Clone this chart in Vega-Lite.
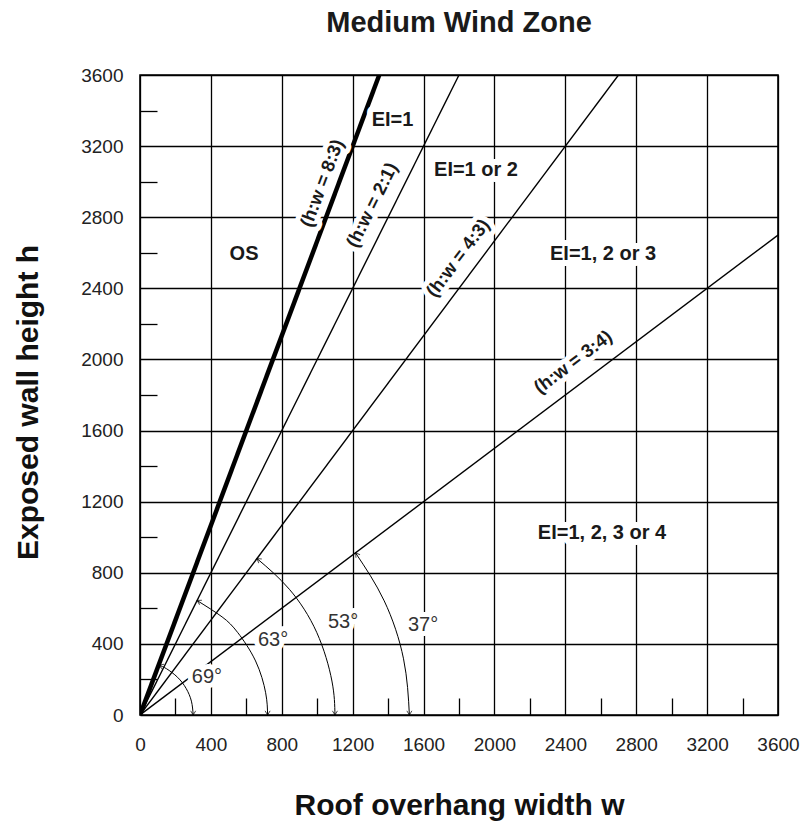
{
  "$schema": "https://vega.github.io/schema/vega-lite/v6.json",
  "width": 638,
  "height": 640,
  "autosize": {"type": "none"},
  "padding": {"left": 140, "top": 75, "right": 25, "bottom": 115},
  "background": "white",
  "title": {"text": "Medium Wind Zone", "fontSize": 29, "font": "Liberation Sans", "fontWeight": "bold", "color": "#1a1a1a", "anchor": "middle", "offset": 28},
  "config": {
    "view": {"stroke": "black", "strokeWidth": 1.6},
    "font": "Liberation Sans",
    "text": {"font": "Liberation Sans"}
  },
  "datasets": {
    "rays": [
      {"ratio": "8:3", "w": 0, "h": 0}, {"ratio": "8:3", "w": 1350, "h": 3600},
      {"ratio": "2:1", "w": 0, "h": 0}, {"ratio": "2:1", "w": 1800, "h": 3600},
      {"ratio": "4:3", "w": 0, "h": 0}, {"ratio": "4:3", "w": 2700, "h": 3600},
      {"ratio": "3:4", "w": 0, "h": 0}, {"ratio": "3:4", "w": 3600, "h": 2700}
    ],
    "arcs": [
      {"arc": "69", "i": 0, "w": 108, "h": 280}, {"arc": "69", "i": 1, "w": 150, "h": 260}, {"arc": "69", "i": 2, "w": 212, "h": 212},
      {"arc": "69", "i": 3, "w": 260, "h": 150}, {"arc": "69", "i": 4, "w": 290, "h": 78}, {"arc": "69", "i": 5, "w": 300, "h": 0},
      {"arc": "63", "i": 0, "w": 322, "h": 644}, {"arc": "63", "i": 1, "w": 463, "h": 552}, {"arc": "63", "i": 2, "w": 552, "h": 463},
      {"arc": "63", "i": 3, "w": 652, "h": 304}, {"arc": "63", "i": 4, "w": 709, "h": 125}, {"arc": "63", "i": 5, "w": 720, "h": 0},
      {"arc": "53", "i": 0, "w": 660, "h": 880}, {"arc": "53", "i": 1, "w": 843, "h": 707}, {"arc": "53", "i": 2, "w": 997, "h": 465},
      {"arc": "53", "i": 3, "w": 1083, "h": 191}, {"arc": "53", "i": 4, "w": 1100, "h": 0},
      {"arc": "37", "i": 0, "w": 1216, "h": 912}, {"arc": "37", "i": 1, "w": 1378, "h": 642}, {"arc": "37", "i": 2, "w": 1487, "h": 316},
      {"arc": "37", "i": 3, "w": 1520, "h": 0}
    ],
    "arrows": [
      {"end": "top", "deg": 69.4, "w": 108, "h": 280}, {"end": "bottom", "deg": 69.4, "w": 300, "h": 0},
      {"end": "top", "deg": 63.4, "w": 322, "h": 644}, {"end": "bottom", "deg": 63.4, "w": 720, "h": 0},
      {"end": "top", "deg": 53.1, "w": 660, "h": 880}, {"end": "bottom", "deg": 53.1, "w": 1100, "h": 0},
      {"end": "top", "deg": 36.9, "w": 1216, "h": 912}, {"end": "bottom", "deg": 36.9, "w": 1520, "h": 0}
    ],
    "labels": [
      {"kind": "zone", "text": "EI=1", "w": 1425, "h": 3347, "deg": 0},
      {"kind": "zone", "text": "EI=1 or 2", "w": 1896, "h": 3066, "deg": 0},
      {"kind": "zone", "text": "OS", "w": 587, "h": 2593, "deg": 0},
      {"kind": "zone", "text": "EI=1, 2 or 3", "w": 2613, "h": 2593, "deg": 0},
      {"kind": "zone", "text": "EI=1, 2, 3 or 4", "w": 2607, "h": 1024, "deg": 0},
      {"kind": "ratio", "text": "(h:w = 8:3)", "w": 1027, "h": 2992, "deg": 69.4},
      {"kind": "ratio", "text": "(h:w = 2:1)", "w": 1309, "h": 2869, "deg": 63.4},
      {"kind": "ratio", "text": "(h:w = 4:3)", "w": 1794, "h": 2571, "deg": 53.1},
      {"kind": "ratio", "text": "(h:w = 3:4)", "w": 2443, "h": 1986, "deg": 36.9},
      {"kind": "angle", "text": "69°", "w": 378, "h": 214, "deg": 0},
      {"kind": "angle", "text": "63°", "w": 751, "h": 422, "deg": 0},
      {"kind": "angle", "text": "53°", "w": 1146, "h": 523, "deg": 0},
      {"kind": "angle", "text": "37°", "w": 1597, "h": 506, "deg": 0}
    ]
  },
  "layer": [
    {
      "data": {"name": "rays"},
      "mark": {"type": "line", "color": "black", "strokeCap": "butt", "clip": true},
      "encoding": {
        "x": {
          "field": "w", "type": "quantitative",
          "scale": {"domain": [0, 3600], "nice": false},
          "axis": {
            "orient": "bottom", "values": [0, 400, 800, 1200, 1600, 2000, 2400, 2800, 3200, 3600], "format": "d",
            "grid": true, "gridColor": "black", "gridWidth": 1.3, "gridOpacity": 1,
            "domain": false, "ticks": false, "tickSize": 0, "labelPadding": 20,
            "labelFontSize": 19, "labelColor": "#222", "labelFont": "Liberation Sans", "labelFlush": false,
            "title": "Roof overhang width w", "titleFontSize": 30, "titleFontWeight": "bold", "titleColor": "#111",
            "titleFont": "Liberation Sans", "titleX": 319, "titleY": 90, "titleBaseline": "middle", "titleAnchor": "middle"
          }
        },
        "y": {
          "field": "h", "type": "quantitative",
          "scale": {"domain": [0, 3600], "nice": false},
          "axis": {
            "orient": "left", "values": [0, 400, 800, 1200, 1600, 2000, 2400, 2800, 3200, 3600], "format": "d",
            "grid": true, "gridColor": "black", "gridWidth": 1.3, "gridOpacity": 1,
            "domain": false, "ticks": false, "tickSize": 0, "labelPadding": 17,
            "labelFontSize": 19, "labelColor": "#222", "labelFont": "Liberation Sans", "labelFlush": false,
            "title": "Exposed wall height h", "titleFontSize": 30, "titleFontWeight": "bold", "titleColor": "#111",
            "titleFont": "Liberation Sans", "titleX": -112, "titleY": 327, "titleAngle": 270, "titleBaseline": "middle", "titleAlign": "center"
          }
        },
        "detail": {"field": "ratio"},
        "strokeWidth": {"condition": {"test": "datum.ratio === '8:3'", "value": 4.5}, "value": 1.4}
      }
    },
    {
      "data": {"name": "arcs"},
      "mark": {"type": "line", "color": "black", "strokeWidth": 1, "interpolate": "natural"},
      "encoding": {
        "x": {"field": "w", "type": "quantitative", "axis": {
          "orient": "bottom", "values": [200, 600, 1000, 1400, 1800, 2200, 2600, 3000, 3400],
          "labels": false, "grid": false, "domain": false, "ticks": true, "tickSize": -17, "tickColor": "black", "tickWidth": 1.3, "title": null}},
        "y": {"field": "h", "type": "quantitative", "axis": {
          "orient": "left", "values": [200, 600, 1000, 1400, 1800, 2200, 2600, 3000, 3400],
          "labels": false, "grid": false, "domain": false, "ticks": true, "tickSize": -17, "tickColor": "black", "tickWidth": 1.3, "title": null}},
        "detail": {"field": "arc"},
        "order": {"field": "i"}
      }
    },
    {
      "data": {"name": "arrows"},
      "transform": [{"filter": "datum.end === 'top'"}],
      "mark": {"type": "point", "shape": "M-0.6,-1L0,0L0.6,-1", "filled": false, "stroke": "black", "strokeWidth": 1, "size": 70},
      "encoding": {
        "x": {"field": "w", "type": "quantitative", "axis": null},
        "y": {"field": "h", "type": "quantitative", "axis": null},
        "angle": {"field": "deg", "type": "quantitative", "scale": {"domain": [0, 180], "range": [180, 0]}}
      }
    },
    {
      "data": {"name": "arrows"},
      "transform": [{"filter": "datum.end === 'bottom'"}],
      "mark": {"type": "point", "shape": "M-0.6,-1L0,0L0.6,-1", "filled": false, "stroke": "black", "strokeWidth": 1, "size": 70, "angle": 0},
      "encoding": {
        "x": {"field": "w", "type": "quantitative", "axis": null},
        "y": {"field": "h", "type": "quantitative", "axis": null}
      }
    },
    {
      "layer": [
        {
          "data": {"name": "labels"},
          "transform": [{"filter": "datum.kind === 'zone'"}],
          "mark": {"type": "text", "fontWeight": "bold", "fontSize": 20, "stroke": "white", "strokeWidth": 12, "strokeJoin": "round", "fill": "white", "align": "center", "baseline": "middle"},
          "encoding": {
            "x": {"field": "w", "type": "quantitative", "axis": null},
            "y": {"field": "h", "type": "quantitative", "axis": null},
            "text": {"field": "text"}
          }
        },
        {
          "data": {"name": "labels"},
          "transform": [{"filter": "datum.kind === 'ratio'"}],
          "mark": {"type": "text", "fontWeight": "bold", "fontSize": 18.5, "stroke": "white", "strokeWidth": 10, "strokeJoin": "round", "fill": "white", "align": "center", "baseline": "middle"},
          "encoding": {
            "x": {"field": "w", "type": "quantitative", "axis": null},
            "y": {"field": "h", "type": "quantitative", "axis": null},
            "text": {"field": "text"},
            "angle": {"field": "deg", "type": "quantitative", "scale": {"domain": [0, 90], "range": [360, 270]}}
          }
        },
        {
          "data": {"name": "labels"},
          "transform": [{"filter": "datum.kind === 'angle'"}],
          "mark": {"type": "text", "fontSize": 20, "stroke": "white", "strokeWidth": 10, "strokeJoin": "round", "fill": "white", "align": "center", "baseline": "middle"},
          "encoding": {
            "x": {"field": "w", "type": "quantitative", "axis": null},
            "y": {"field": "h", "type": "quantitative", "axis": null},
            "text": {"field": "text"}
          }
        },
        {
          "data": {"name": "labels"},
          "transform": [{"filter": "datum.kind === 'zone'"}],
          "mark": {"type": "text", "fontWeight": "bold", "fontSize": 20, "fill": "#1a1a1a", "align": "center", "baseline": "middle"},
          "encoding": {
            "x": {"field": "w", "type": "quantitative", "axis": null},
            "y": {"field": "h", "type": "quantitative", "axis": null},
            "text": {"field": "text"}
          }
        },
        {
          "data": {"name": "labels"},
          "transform": [{"filter": "datum.kind === 'ratio'"}],
          "mark": {"type": "text", "fontWeight": "bold", "fontSize": 18.5, "fill": "#1a1a1a", "align": "center", "baseline": "middle"},
          "encoding": {
            "x": {"field": "w", "type": "quantitative", "axis": null},
            "y": {"field": "h", "type": "quantitative", "axis": null},
            "text": {"field": "text"},
            "angle": {"field": "deg", "type": "quantitative", "scale": {"domain": [0, 90], "range": [360, 270]}}
          }
        },
        {
          "data": {"name": "labels"},
          "transform": [{"filter": "datum.kind === 'angle'"}],
          "mark": {"type": "text", "fontSize": 20, "fill": "#333", "align": "center", "baseline": "middle"},
          "encoding": {
            "x": {"field": "w", "type": "quantitative", "axis": null},
            "y": {"field": "h", "type": "quantitative", "axis": null},
            "text": {"field": "text"}
          }
        }
      ]
    }
  ],
  "resolve": {"axis": {"x": "independent", "y": "independent"}, "scale": {"angle": "independent"}}
}
